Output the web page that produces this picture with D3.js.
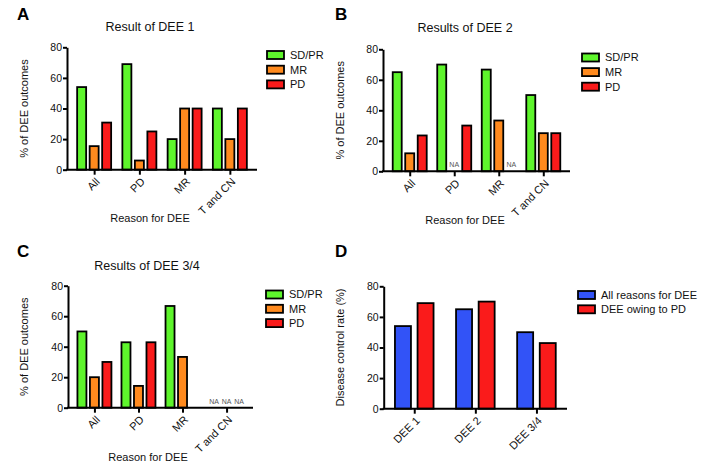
<!DOCTYPE html>
<html>
<head>
<meta charset="utf-8">
<script src="https://cdn.jsdelivr.net/npm/d3@7"></script>
<style>
  html, body { margin: 0; padding: 0; background: #fff; }
  svg { display: block; font-family: "Liberation Sans", Arial, Helvetica, sans-serif; }
</style>
</head>
<body>
<svg id="chart" width="705" height="466"></svg>
<script>
// ---------- Data ----------
const reasons = ["All", "PD", "MR", "T and CN"];
const outcomeSeries = ["SD/PR", "MR", "PD"];

// null = NA (labelled), 0 = no bar
const dee1SDPR = [54, 69, 20, 40];
const dee1MR   = [15.4, 6, 40, 20];
const dee1PD   = [30.8, 25, 40, 40];

const dee2SDPR = [65, 70, 66.7, 50];
const dee2MR   = [11.8, null, 33.3, 25];
const dee2PD   = [23.5, 30, null, 25];

const dee34SDPR = [50, 42.9, 66.7, null];
const dee34MR   = [20, 14.3, 33.3, null];
const dee34PD   = [30, 42.9, 0, null];

const deeStages = ["DEE 1", "DEE 2", "DEE 3/4"];
const dcrSeries = ["All reasons for DEE", "DEE owing to PD"];
const dcrAll = [54, 65, 50];
const dcrPD  = [69, 70, 42.9];

const yTicks = [0, 20, 40, 60, 80];

// ---------- Styles ----------
const colGreen = "#5ef52c", colOrange = "#ff8a1e", colRed = "#fa1b1b", colBlue = "#3253f7";

const svg = d3.select("#chart");

function panel(cfg) {
  const g = svg.append("g");
  const y = d3.scaleLinear().domain([0, 80]).range([cfg.yBottom, cfg.yTop]);
  const x = d3.scalePoint().domain(cfg.categories).range([cfg.x0, cfg.x1]).padding(cfg.pad);

  // bars
  cfg.series.forEach((s, si) => {
    s.values.forEach((v, ci) => {
      const cx = x(cfg.categories[ci]) + cfg.offsets[si];
      if (v === null) {
        g.append("text").attr("x", cx).attr("y", cfg.yBottom - 4)
          .attr("text-anchor", "middle").attr("font-size", 7).attr("fill", "#555")
          .text("NA");
        return;
      }
      if (v === 0) return;
      g.append("rect")
        .attr("x", cx - cfg.barW / 2)
        .attr("y", y(v))
        .attr("width", cfg.barW)
        .attr("height", cfg.yBottom - y(v))
        .attr("fill", s.color)
        .attr("stroke", "#000")
        .attr("stroke-width", 1.8);
    });
  });

  // y axis
  const ya = g.append("g").attr("transform", `translate(${cfg.x0},0)`)
    .call(d3.axisLeft(y).tickValues(yTicks).tickSize(4).tickSizeOuter(0).tickPadding(1));
  ya.select(".domain").attr("stroke-width", 2);
  ya.selectAll(".tick line").attr("stroke-width", 2);
  ya.selectAll(".tick text").attr("font-size", 10.5).attr("font-family", "Liberation Sans, Arial, sans-serif").attr("fill", "#111");

  // x axis
  const xa = g.append("g").attr("transform", `translate(0,${cfg.yBottom})`)
    .call(d3.axisBottom(x).tickSize(5).tickSizeOuter(0));
  xa.select(".domain").attr("stroke-width", 2).attr("d", `M${cfg.x0 - 1},0H${cfg.x1}`);
  xa.selectAll(".tick line").attr("stroke-width", 2);
  xa.selectAll(".tick text")
    .attr("font-size", 11).attr("font-family", "Liberation Sans, Arial, sans-serif").attr("fill", "#111")
    .attr("text-anchor", "end")
    .attr("dy", "0.35em")
    .attr("transform", "translate(3,10) rotate(-45)")
    .attr("y", 0).attr("x", 0);

  // titles
  if (cfg.title) {
    g.append("text").attr("x", cfg.titleX).attr("y", cfg.titleY)
      .attr("text-anchor", "middle").attr("font-size", 12.5).attr("fill", "#111").text(cfg.title);
  }
  g.append("text").attr("x", cfg.letterX).attr("y", cfg.letterY)
    .attr("font-size", 17).attr("font-weight", "bold").attr("fill", "#000").text(cfg.letter);

  const midY = (cfg.yTop + cfg.yBottom) / 2;
  g.append("text").attr("transform", `translate(${cfg.yLabelX},${midY}) rotate(-90)`)
    .attr("text-anchor", "middle").attr("font-size", 11).attr("fill", "#111").text(cfg.yLabel);
  if (cfg.xLabel) {
    g.append("text").attr("x", cfg.xLabelX).attr("y", cfg.xLabelY)
      .attr("text-anchor", "middle").attr("font-size", 11).attr("fill", "#111").text(cfg.xLabel);
  }

  // legend
  cfg.series.forEach((s, i) => {
    const cy = cfg.legY + i * cfg.legStep;
    g.append("rect").attr("x", cfg.legX).attr("y", cy - 4).attr("width", 17).attr("height", 8)
      .attr("fill", s.color).attr("stroke", "#000").attr("stroke-width", 1.8);
    g.append("text").attr("x", cfg.legX + 23).attr("y", cy).attr("dy", "0.35em")
      .attr("font-size", 11).attr("fill", "#111").text(s.name);
  });
}

const outColors = [colGreen, colOrange, colRed];

panel({
  letter: "A", letterX: 17, letterY: 20,
  title: "Result of DEE 1", titleX: 150, titleY: 31,
  categories: reasons, pad: 0.6, x0: 67, x1: 257, yTop: 47.3, yBottom: 169.7,
  barW: 9, offsets: [-12.5, 0, 12.5],
  series: [dee1SDPR, dee1MR, dee1PD].map((v, i) => ({ name: outcomeSeries[i], values: v, color: outColors[i] })),
  yLabel: "% of DEE outcomes", yLabelX: 28,
  xLabel: "Reason for DEE", xLabelX: 150, xLabelY: 222,
  legX: 267, legY: 55, legStep: 14.7
});

panel({
  letter: "B", letterX: 335, letterY: 20,
  title: "Results of DEE 2", titleX: 465, titleY: 32,
  categories: reasons, pad: 0.6, x0: 383, x1: 570, yTop: 49.3, yBottom: 171.3,
  barW: 9, offsets: [-12.5, 0, 12.5],
  series: [dee2SDPR, dee2MR, dee2PD].map((v, i) => ({ name: outcomeSeries[i], values: v, color: outColors[i] })),
  yLabel: "% of DEE outcomes", yLabelX: 344,
  xLabel: "Reason for DEE", xLabelX: 465, xLabelY: 224,
  legX: 582, legY: 57.5, legStep: 14.6
});

panel({
  letter: "C", letterX: 17, letterY: 257,
  title: "Results of DEE 3/4", titleX: 147, titleY: 270,
  categories: reasons, pad: 0.6, x0: 68, x1: 253, yTop: 285.7, yBottom: 407.7,
  barW: 9, offsets: [-12.5, 0, 12.5],
  series: [dee34SDPR, dee34MR, dee34PD].map((v, i) => ({ name: outcomeSeries[i], values: v, color: outColors[i] })),
  yLabel: "% of DEE outcomes", yLabelX: 28,
  xLabel: "Reason for DEE", xLabelX: 148, xLabelY: 461,
  legX: 266, legY: 294.5, legStep: 14.3
});

panel({
  letter: "D", letterX: 335, letterY: 257,
  title: null,
  categories: deeStages, pad: 0.5, x0: 383.7, x1: 567, yTop: 286.3, yBottom: 408.7,
  barW: 16, offsets: [-11.3, 11.3],
  series: [dcrAll, dcrPD].map((v, i) => ({ name: dcrSeries[i], values: v, color: [colBlue, colRed][i] })),
  yLabel: "Disease control rate (%)", yLabelX: 344,
  xLabel: null,
  legX: 578, legY: 295, legStep: 14.3
});
</script>
</body>
</html>
